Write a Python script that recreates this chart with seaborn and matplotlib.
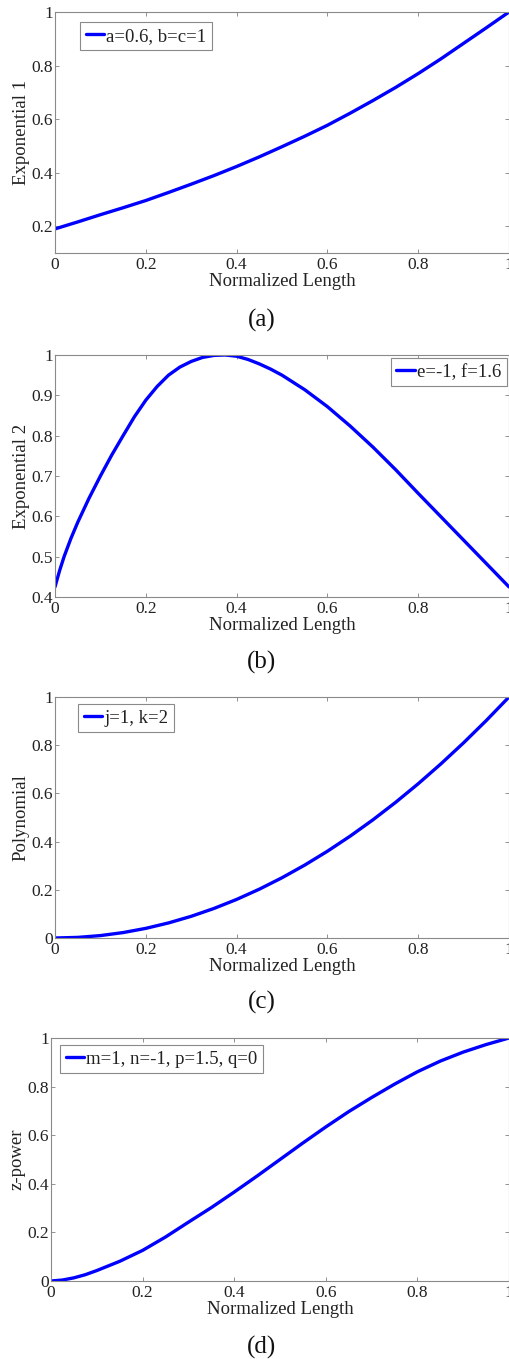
import numpy as np
import pandas as pd
import matplotlib
matplotlib.use("Agg")
import matplotlib.pyplot as plt
import seaborn as sns

# ---- data ----
x_a = [0.0, 0.05, 0.1, 0.15, 0.2, 0.25, 0.3, 0.35, 0.4, 0.45, 0.5,
       0.55, 0.6, 0.65, 0.7, 0.75, 0.8, 0.85, 0.9, 0.95, 1.0]
y_a = [0.19, 0.216, 0.243, 0.269, 0.296, 0.326, 0.357, 0.389, 0.423, 0.459, 0.497,
       0.536, 0.577, 0.622, 0.669, 0.718, 0.770, 0.825, 0.883, 0.941, 1.0]

x_b = [0.0, 0.01, 0.02, 0.035, 0.05, 0.075, 0.1, 0.125, 0.15, 0.175, 0.2, 0.225, 0.25,
       0.275, 0.3, 0.325, 0.35, 0.375, 0.4, 0.425, 0.45, 0.475, 0.5, 0.55, 0.6, 0.65,
       0.7, 0.75, 0.8, 0.85, 0.9, 0.95, 1.0]
y_b = [0.425, 0.465, 0.50, 0.545, 0.585, 0.645, 0.70, 0.752, 0.80, 0.847, 0.888, 0.922, 0.95,
       0.970, 0.984, 0.994, 0.999, 1.0, 0.997, 0.989, 0.978, 0.965, 0.95, 0.914, 0.872, 0.824,
       0.772, 0.716, 0.657, 0.599, 0.541, 0.483, 0.425]

x_c = [0.0, 0.05, 0.1, 0.15, 0.2, 0.25, 0.3, 0.35, 0.4, 0.45, 0.5,
       0.55, 0.6, 0.65, 0.7, 0.75, 0.8, 0.85, 0.9, 0.95, 1.0]
y_c = [0.0, 0.0025, 0.01, 0.0225, 0.04, 0.0625, 0.09, 0.1225, 0.16, 0.2025, 0.25,
       0.3025, 0.36, 0.4225, 0.49, 0.5625, 0.64, 0.7225, 0.81, 0.9025, 1.0]

x_d = [0.0, 0.025, 0.05, 0.075, 0.1, 0.15, 0.2, 0.25, 0.3, 0.35, 0.4, 0.45, 0.5,
       0.55, 0.6, 0.65, 0.7, 0.75, 0.8, 0.85, 0.9, 0.95, 1.0]
y_d = [0.0, 0.004, 0.013, 0.026, 0.043, 0.081, 0.126, 0.181, 0.242, 0.302, 0.366, 0.432, 0.50,
       0.568, 0.634, 0.697, 0.755, 0.810, 0.861, 0.905, 0.942, 0.973, 1.0]

ylabels = ["Exponential 1", "Exponential 2", "Polynomial", "z-power"]
legends = ["a=0.6, b=c=1", "e=-1, f=1.6", "j=1, k=2", "m=1, n=-1, p=1.5, q=0"]
panel_labels = ["(a)", "(b)", "(c)", "(d)"]
xlabel = "Normalized Length"
x_ticks = [0, 0.2, 0.4, 0.6, 0.8, 1]
y_ticks = [[0.2, 0.4, 0.6, 0.8, 1], [0.4, 0.5, 0.6, 0.7, 0.8, 0.9, 1],
           [0, 0.2, 0.4, 0.6, 0.8, 1], [0, 0.2, 0.4, 0.6, 0.8, 1]]
y_limits = [(0.1, 1.0), (0.4, 1.0), (0.0, 1.0), (0.0, 1.0)]

sns.set_style("ticks")
plt.rcParams['font.family'] = ['Liberation Serif', 'DejaVu Serif']

W, H = 510, 1359
fig = plt.figure(figsize=(W / 100, H / 100), dpi=100)

# axes boxes in pixels: left, top, right, bottom
boxes = [(55, 12, 509, 253), (55, 355, 509, 597), (55, 697, 509, 938), (51, 1038, 509, 1281)]
label_y = [320, 662, 1002, 1347]
leg_cfg = [("upper left", (25, 10)), ("upper right", (-2, 3)),
           ("upper left", (23, 7)), ("upper left", (9, 7))]

series = [(x_a, y_a), (x_b, y_b), (x_c, y_c), (x_d, y_d)]

def fmt(v):
    return "%g" % v

for i, (xs, ys) in enumerate(series):
    l, t, r, b = boxes[i]
    ax = fig.add_axes([l / W, 1 - b / H, (r - l) / W, (b - t) / H])
    df = pd.DataFrame({"x": xs, "y": ys, "s": legends[i]})
    sns.lineplot(data=df, x="x", y="y", hue="s", palette=["#0000ff"], ax=ax,
                 linewidth=2.4, legend=True)
    ax.set_xlim(0, 1)
    ax.set_ylim(*y_limits[i])
    ax.set_xticks(x_ticks)
    ax.set_xticklabels([fmt(v) for v in x_ticks])
    ax.set_yticks(y_ticks[i])
    ax.set_yticklabels([fmt(v) for v in y_ticks[i]])
    ax.tick_params(direction="in", length=3, width=0.6, color="#808080",
                   top=True, right=True, labelsize=12.5, labelcolor="#222222", pad=3)
    ax.tick_params(axis="y", pad=1.5)
    for sp in ax.spines.values():
        sp.set_visible(True)
        sp.set_color("#8a8a8a")
        sp.set_linewidth(0.8)
    ax.set_xlabel(xlabel, fontsize=13.5, color="#222222", labelpad=0)
    ax.set_ylabel(ylabels[i], fontsize=13.5, color="#222222", labelpad=1)

    loc, (dx, dy) = leg_cfg[i]
    aw, ah = r - l, b - t
    if loc == "upper left":
        anchor = (dx / aw, 1 - dy / ah)
    else:
        anchor = (1 + dx / aw, 1 - dy / ah)
    leg = ax.legend(loc=loc, bbox_to_anchor=anchor, borderaxespad=0,
                    fontsize=13.5, handlelength=1.0, handletextpad=0.1,
                    borderpad=0.3, fancybox=False, framealpha=1,
                    edgecolor="#8a8a8a")
    leg.get_frame().set_linewidth(0.8)
    for txt in leg.get_texts():
        txt.set_color("#222222")
    for ln in leg.get_lines():
        ln.set_linewidth(2.4)

    fig.text(262 / W, 1 - label_y[i] / H, panel_labels[i], ha="center", va="center",
             fontsize=18, color="#111111")

fig.savefig("out.png", dpi=100)
